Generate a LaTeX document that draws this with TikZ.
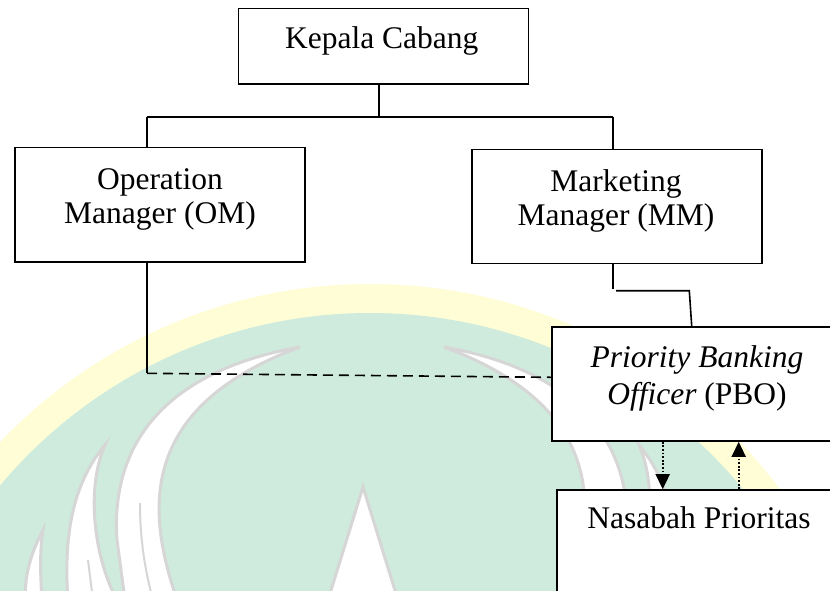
\documentclass[tikz,border=0pt]{standalone}
\usepackage{fontspec}
\setmainfont{Liberation Serif}
\usetikzlibrary{arrows.meta}
\definecolor{wmyellow}{HTML}{FFFDD5}
\definecolor{wmgreen}{HTML}{CFEBDD}
\definecolor{wmgray}{HTML}{D6D6D6}
\begin{document}
\begin{tikzpicture}[x=0.5pt,y=-0.5pt,
  box/.style={draw=black,line width=0.8pt,fill=white,inner sep=0pt},
  txt/.style={inner sep=0pt,align=center},
  wm/.style={fill=white,draw=wmgray,line width=1.5pt},
  wmline/.style={draw=wmgray,line width=1pt},
  link/.style={draw=black,line width=0.8pt},
  flow/.style={draw=black,line width=0.9pt,dash pattern=on 0.9pt off 0.9pt,
    -{Triangle[width=7pt,length=7.5pt]}}]
\useasboundingbox (0,0) rectangle (830,590);
\clip (0,0) rectangle (830,590);
% watermark
\fill[wmyellow] (370,796) circle[radius=256pt];
\fill[wmgreen] (370,796) circle[radius=241.5pt];
\foreach \sx/\tx in {1/0,-1/744}{
\begin{scope}[shift={(\tx,0)},xscale=\sx]
  \path[wm] (300,347) .. controls (170,370) and (110,440) .. (117,540) -- (125,600)
     -- (177,600) .. controls (150,520) and (130,410) .. (300,347) -- cycle;
  \path[wmline] (140,503) .. controls (140,540) and (145,570) .. (153,600);
  \path[wm] (105,445) .. controls (80,475) and (62,520) .. (68,600)
     -- (117,600) .. controls (95,560) and (85,490) .. (105,445) -- cycle;
  \path[wmline] (88,560) -- (93,600);
  \path[wm] (43,530) .. controls (30,555) and (25,575) .. (25,600)
     -- (42,600) .. controls (40,570) and (40,550) .. (43,530) -- cycle;
\end{scope}}
\path[wm] (363,487) -- (328,600) -- (398,600) -- cycle;
% boxes
\node[box,minimum width=145pt,minimum height=37.85pt] (kc) at (383.3,46.15) {};
\node[box,minimum width=145pt,minimum height=57.2pt] (om) at (160,204.5) {};
\node[box,minimum width=145pt,minimum height=57.1pt] (mm) at (616.7,206.4) {};
\node[box,minimum width=145.2pt,minimum height=57.15pt] (pbo) at (696.9,383.85) {};
\node[box,minimum width=145pt,minimum height=57pt] (nas) at (702.2,547) {};
% texts
\node[txt,anchor=base,font=\fontsize{15.75}{17}\selectfont] (kct) at (381.7,48.3) {Kepala Cabang};
\node[txt,font=\fontsize{15.75}{17}\selectfont] (omt) at (160,199.5) {Operation\strut\\Manager (OM)\strut};
\node[txt,font=\fontsize{15.75}{17}\selectfont] (mmt) at (616,201.9) {Marketing\strut\\Manager (MM)\strut};
\node[txt,font=\fontsize{15.75}{18.5}\selectfont] (pbot) at (697,378.4) {\textit{Priority Banking}\strut\\\textit{Officer} (PBO)\strut};
\node[txt,anchor=base,font=\fontsize{15.75}{17}\selectfont] (nast) at (699,528) {Nasabah Prioritas};
% connectors
\coordinate (j) at (379,116.7);
\coordinate (jl) at (147,116.7);
\coordinate (jr) at (613,116.7);
\draw[link] (kc.south -| j) -- (j);
\draw[link] (jl) -- (jr);
\draw[link] (jl) -- (om.north -| jl);
\draw[link] (jr) -- (mm.north -| jr);
\coordinate (m1) at (613,288.5);
\coordinate (m2) at (616,290.7);
\coordinate (m3) at (689.3,290.7);
\coordinate (m4) at (691.7,326.7);
\draw[link] (mm.south -| m1) -- (m1);
\draw[link] (m2) -- (m3) -- (m4 |- pbo.north);
\coordinate (o1) at (147,373.3);
\coordinate (o2) at (551.7,377.3);
\draw[link] (om.south -| o1) -- (o1);
\draw[link,dash pattern=on 5pt off 3pt] (o1) -- (o2 -| pbo.west);
\coordinate (a1) at (662.7,0);
\coordinate (a2) at (738.7,0);
\draw[flow] (pbo.south -| a1) -- (nas.north -| a1);
\draw[flow] (nas.north -| a2) -- (pbo.south -| a2);
\end{tikzpicture}
\end{document}
